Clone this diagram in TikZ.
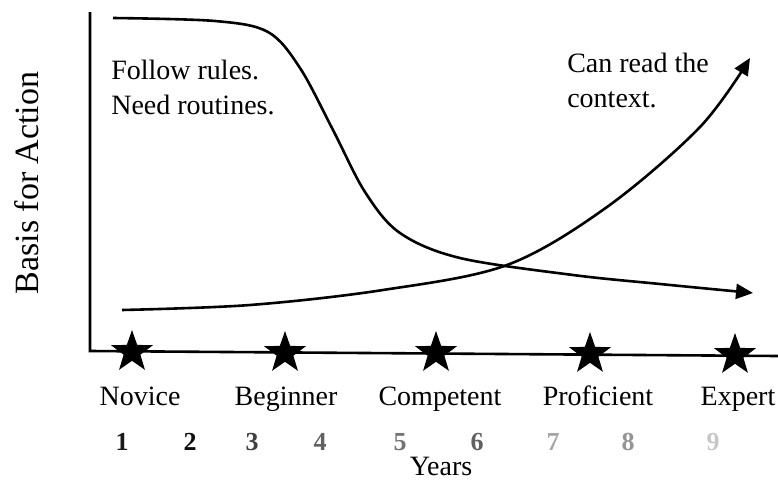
\documentclass[tikz,border=0pt]{standalone}
\usepackage{fontspec}
\setmainfont{Liberation Serif}
\usetikzlibrary{positioning}
\usetikzlibrary{shapes.geometric}
\usetikzlibrary{arrows.meta}

\begin{document}
\begin{tikzpicture}[
            x=1pt, y=-1pt,
            >={Triangle[length=17pt, width=15pt]}, line width=2.6pt,
            level/.style={anchor=base, inner sep=0pt, font=\fontsize{28}{35}\selectfont},
            note/.style={anchor=west, align=left, inner sep=0pt, font=\fontsize{28}{35}\selectfont},
            year/.style={anchor=base, inner sep=0pt, font=\fontsize{26}{30}\selectfont\bfseries},
            milestone/.style={fill, star, star points=5, star point ratio=2.5, minimum size=44pt, inner sep=0pt}
        ]
            \useasboundingbox (0,0) rectangle (778,482);

            % Axes
            \coordinate (ytop) at (90,12);
            \coordinate (origin) at (90,351);
            \coordinate (xend) at (778,356);
            \draw (ytop) -- (origin) -- (xend);
            \node[rotate=90, font=\fontsize{34}{40}\selectfont] (basis) at (27,183) {Basis for Action};

            % Stages
            \foreach \x/\y/\name in {132/352/novice, 285/353/beginner, 436/353/competent, 590/354/proficient, 735/355/expert}
                \node[milestone] (\name) at (\x,\y) {};
            \foreach \x/\txt/\name in {140/Novice/novice, 286/Beginner/beginner, 440/Competent/competent, 598/Proficient/proficient, 738/Expert/expert}
                \node[level] (\name-lbl) at (\x,405) {\txt};

            % Years
            \foreach \n/\x/\shade in {1/122/black!90, 2/190/black!95, 3/252/black!75, 4/320/black!62, 5/400/black!55, 6/477/black!62, 7/553/black!35, 8/628/black!42, 9/713/black!22}
                \node[year, text=\shade] (yr\n) at (\x,450) {\n};
            \node[level] (years) at (441,475) {Years};

            % Rules fade out
            \coordinate (rulesstart) at (113,18);
            \coordinate (rulesend) at (753,293);
            \draw[->] plot[smooth, tension=0.55] coordinates {(rulesstart) (215,21) (268,32) (300,68) (333,130) (365,192) (400,233) (460,258) (573,275) (660,284) (rulesend)};
            \node[note] (rules) at (110,87) {Follow rules.\\Need routines.};

            % Context grows
            \coordinate (contextstart) at (122,310);
            \coordinate (contextend) at (750,58);
            \draw[->] plot[smooth, tension=0.55] coordinates {(contextstart) (250,305) (383,290) (507,265) (607,207) (700,127) (contextend)};
            \node[note] (context) at (566,80) {Can read the\\context.};
        \end{tikzpicture}
\end{document}
